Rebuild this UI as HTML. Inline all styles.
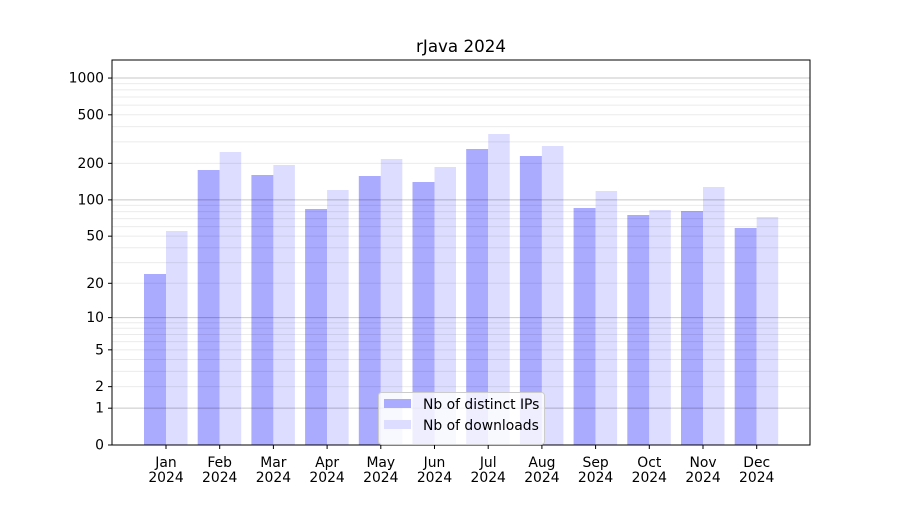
<!DOCTYPE html>
<html><head><meta charset="utf-8"><style>
html,body{margin:0;padding:0;background:#fff;}
text{font-family:"DejaVu Sans","Liberation Sans",sans-serif;font-size:13.9px;fill:#000;}
</style></head><body>
<svg id="s" width="900" height="500" xmlns="http://www.w3.org/2000/svg">
<rect width="900" height="500" fill="#fff"/>
<g id="bars"></g>
<g id="grid"></g>
<rect x="112" y="60" width="698" height="385" fill="none" stroke="#000" stroke-width="1"/>
<g id="ticks"></g>
<text x="461" y="52" text-anchor="middle" style="font-size:16.7px">rJava 2024</text>
<rect x="378.5" y="392.5" width="166" height="52" rx="3" fill="#fff" fill-opacity="0.8" stroke="#ccc"/>
<rect x="384" y="399" width="27" height="9" fill="#aaaaff"/>
<rect x="384" y="420" width="27" height="9" fill="#ddddff"/>
<text x="423" y="409">Nb of distinct IPs</text>
<text x="423" y="430">Nb of downloads</text>
</svg>
<script>
var ns="http://www.w3.org/2000/svg";
function el(p,t,a,txt){var e=document.createElementNS(ns,t);for(var k in a)e.setAttribute(k,a[k]);if(txt)e.textContent=txt;document.getElementById(p).appendChild(e);}
function Y(v){return 445-122.3*Math.log10(1+v);}
var g=[];for(var d=1;d<=100;d*=10)for(var m=2;m<=9;m++)g.push(m*d);
g.forEach(function(v){var y=Y(v);el("grid","line",{x1:112,x2:810,y1:y,y2:y,stroke:"#000","stroke-opacity":0.08,"stroke-width":1});});
[1,10,100,1000].forEach(function(v){var y=Y(v);el("grid","line",{x1:112,x2:810,y1:y,y2:y,stroke:"#000","stroke-opacity":0.22,"stroke-width":1});});
[0,1,2,5,10,20,50,100,200,500,1000].forEach(function(v){var y=Y(v);el("ticks","line",{x1:108,x2:112,y1:y,y2:y,stroke:"#000"});el("ticks","text",{x:104,y:y+4.5,"text-anchor":"end"},String(v));});
var M=["Jan","Feb","Mar","Apr","May","Jun","Jul","Aug","Sep","Oct","Nov","Dec"];
var D=[274,170,175,209,176,182,149,156,208,215,211,228];
var L=[231,152,165,190,159,167,134,146,191,210,187,217];
for(var i=0;i<12;i++){var c=166+i*53.7;
el("bars","rect",{x:c-22,y:D[i],width:22,height:445-D[i],fill:"#aaaaff"});
el("bars","rect",{x:c,y:L[i],width:21.5,height:445-L[i],fill:"#ddddff"});
el("ticks","line",{x1:c,x2:c,y1:445,y2:449,stroke:"#000"});
el("ticks","text",{x:c,y:467,"text-anchor":"middle"},M[i]);
el("ticks","text",{x:c,y:482,"text-anchor":"middle"},"2024");}
</script>
</body></html>
